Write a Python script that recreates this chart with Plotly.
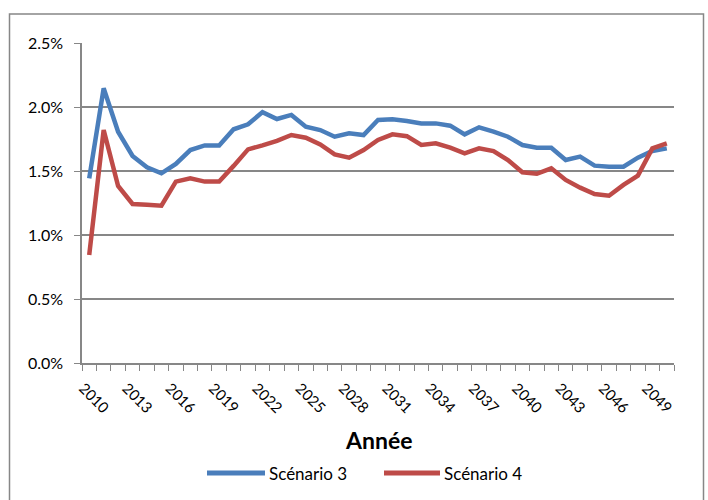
import plotly.graph_objects as go

# Années 2010 à 2050
annees = list(range(2010, 2051))

# Taux annuels (%) par scénario
scenario_3 = [1.443, 2.146, 1.807, 1.617, 1.529, 1.482, 1.555, 1.664, 1.700, 1.700,
              1.826, 1.865, 1.960, 1.906, 1.938, 1.846, 1.820, 1.768, 1.794, 1.781,
              1.898, 1.904, 1.890, 1.872, 1.872, 1.854, 1.786, 1.841, 1.807, 1.768,
              1.703, 1.682, 1.682, 1.586, 1.612, 1.542, 1.534, 1.534, 1.604, 1.656,
              1.677]
scenario_4 = [0.844, 1.820, 1.383, 1.242, 1.237, 1.229, 1.417, 1.443, 1.417, 1.417,
              1.540, 1.669, 1.700, 1.735, 1.781, 1.760, 1.708, 1.630, 1.604, 1.664,
              1.742, 1.786, 1.772, 1.703, 1.716, 1.682, 1.638, 1.677, 1.656, 1.586,
              1.490, 1.478, 1.521, 1.430, 1.370, 1.320, 1.307, 1.391, 1.464, 1.677,
              1.716]

noms_series = ["Scénario 3", "Scénario 4"]
couleurs = ["#4A7EBB", "#BE4B48"]

etiquettes_annees = list(range(2010, 2050, 3))
graduations_y = [0.0, 0.5, 1.0, 1.5, 2.0, 2.5]

GRIS = "#878787"
POLICE = "Lato, 'Open Sans', sans-serif"

# géométrie de la zone de tracé (pixels)
L, R, T, B = 82, 34, 43, 137
W, H = 708 - L - R, 500 - T - B


def px_x(px):
    return (px - L) / W


def px_y(py):
    return (500 - B - py) / H


fig = go.Figure()
for nom, vals, coul in zip(noms_series, [scenario_3, scenario_4], couleurs):
    fig.add_trace(go.Scatter(x=annees, y=vals, mode="lines", name=nom,
                             line=dict(color=coul, width=4.5), showlegend=False))

# légende horizontale sous le titre de l'axe
shapes = [dict(type="rect", xref="paper", yref="paper",
               x0=px_x(9.5), x1=px_x(703.5), y0=px_y(520), y1=px_y(14),
               line=dict(color=GRIS, width=1.5), layer="below")]
annotations = [dict(text="<b>Année</b>", xref="paper", yref="paper",
                    x=0.5, y=px_y(440), xanchor="center", yanchor="middle",
                    showarrow=False, font=dict(size=23))]
legende_x = [(207, 265), (384, 440)]
for nom, coul, (x0, x1) in zip(noms_series, couleurs, legende_x):
    shapes.append(dict(type="line", xref="paper", yref="paper",
                       x0=px_x(x0), x1=px_x(x1), y0=px_y(473), y1=px_y(473),
                       line=dict(color=coul, width=5)))
    annotations.append(dict(text=nom, xref="paper", yref="paper",
                            x=px_x(x1 + 2), y=px_y(473), xanchor="left",
                            yanchor="middle", showarrow=False,
                            font=dict(size=17)))

fig.update_layout(
    width=708, height=500,
    margin=dict(l=L, r=R, t=T, b=B),
    paper_bgcolor="white", plot_bgcolor="white",
    font=dict(family=POLICE, size=15, color="#000000"),
    showlegend=False,
    xaxis=dict(
        range=[2009.5, 2050.5],
        tickmode="array", tickvals=etiquettes_annees,
        ticktext=[str(a) for a in etiquettes_annees],
        tickangle=45, ticks="", showgrid=False, zeroline=False,
        showline=True, linecolor=GRIS, linewidth=1.5,
        tickfont=dict(size=15), ticklabelstandoff=9, ticklabelshift=-6,
        minor=dict(ticks="outside", ticklen=6, tickwidth=1.3, tickcolor=GRIS,
                   tick0=2009.5, dtick=1, showgrid=False),
    ),
    yaxis=dict(
        range=[0, 2.5], tickmode="array", tickvals=graduations_y,
        ticktext=[f"{v:.1f}%" for v in graduations_y],
        showgrid=True, gridcolor=GRIS, gridwidth=1.5,
        zeroline=False, showline=True, linecolor=GRIS, linewidth=1.5,
        ticks="outside", ticklen=6, tickcolor=GRIS, tickwidth=1.3,
        tickfont=dict(size=16), ticklabelstandoff=8,
    ),
    shapes=shapes,
    annotations=annotations,
)

fig.write_html("out.html")
